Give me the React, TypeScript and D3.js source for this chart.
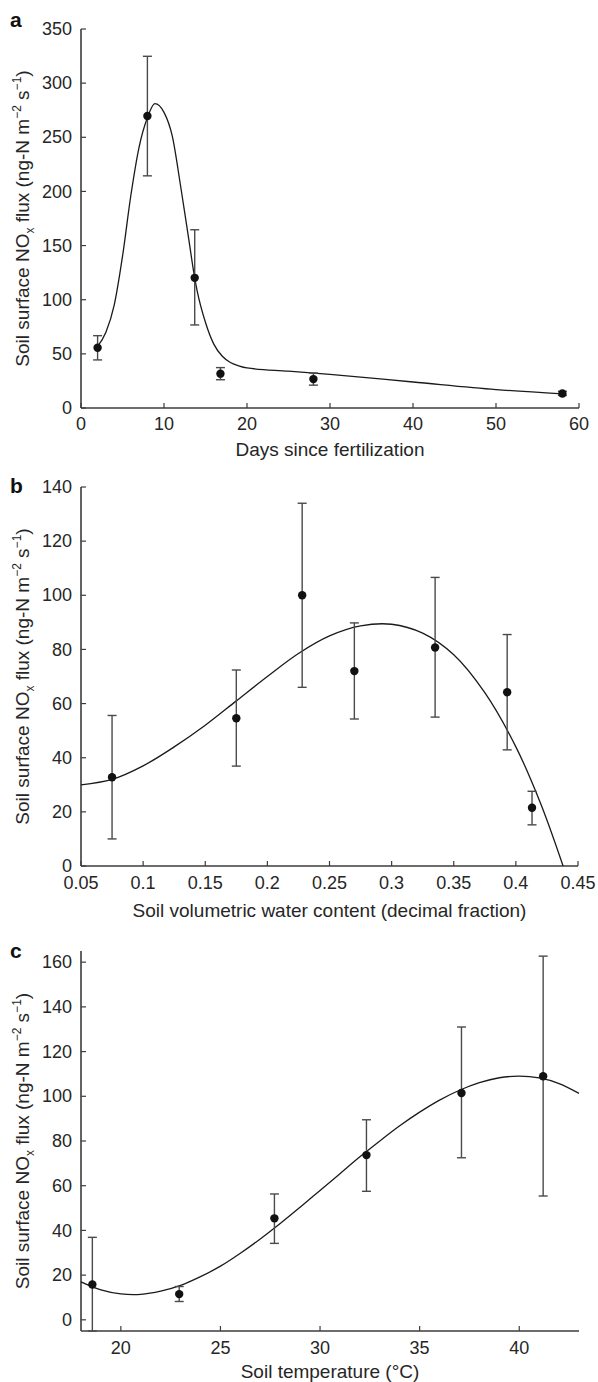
import * as d3 from "d3";

// panel a: flux vs days since fertilization
const daysX = [2, 8, 13.7, 16.8, 28, 58];
const daysFlux = [55.6, 269.6, 120.2, 31.7, 26.7, 13.4];
const daysLow = [44.4, 214.4, 76.7, 26.1, 21.1, 11.6];
const daysHigh = [66.8, 324.8, 164.6, 37.3, 32.3, 15.4];
const daysFitX = [2, 3, 4, 5, 6, 7, 8, 8.9, 10, 11, 12, 13, 13.7, 14, 15, 16, 17, 18, 19, 20, 25, 30, 40, 50, 58];
const daysFitY = [57, 70, 95, 140, 196, 241, 268, 281, 273, 251, 205, 155, 120, 108, 79, 59, 48, 42, 39, 37, 34, 31, 24, 17, 13];
const daysTicksX = [0, 10, 20, 30, 40, 50, 60];
const daysTicksY = [0, 50, 100, 150, 200, 250, 300, 350];

// panel b: flux vs soil water content
const waterX = [0.075, 0.175, 0.228, 0.27, 0.335, 0.393, 0.413];
const waterFlux = [32.8, 54.6, 100, 72, 80.7, 64.2, 21.5];
const waterLow = [10, 36.9, 66, 54.3, 55, 42.9, 15.2];
const waterHigh = [55.6, 72.4, 134, 89.8, 106.6, 85.5, 27.6];
const waterFitX = [0.05, 0.075, 0.1, 0.125, 0.15, 0.175, 0.2, 0.225, 0.25, 0.275, 0.3, 0.325, 0.35, 0.375, 0.4, 0.42, 0.438];
const waterFitY = [30, 32, 37, 44, 52, 61, 70, 78.5, 85, 88.7, 89.3, 86, 78, 64, 44, 23, 0];
const waterTicksX = [0.05, 0.1, 0.15, 0.2, 0.25, 0.3, 0.35, 0.4, 0.45];
const waterTicksY = [0, 20, 40, 60, 80, 100, 120, 140];

// panel c: flux vs soil temperature
const tempX = [18.57, 22.93, 27.71, 32.33, 37.1, 41.2];
const tempFlux = [15.8, 11.5, 45.4, 73.7, 101.5, 109];
const tempLow = [-5, 8.2, 34.2, 57.5, 72.5, 55.4];
const tempHigh = [36.9, 14.9, 56.3, 89.5, 131, 162.7];
const tempFitX = [18, 19, 20, 21, 22, 23, 24, 25, 26, 27, 28, 29, 30, 31, 32, 33, 34, 35, 36, 37, 38, 39, 40, 41, 42, 43];
const tempFitY = [17, 13.4, 11.6, 11.4, 12.8, 15.4, 19.3, 24, 29.8, 36.2, 43.1, 50.4, 57.9, 65.4, 72.9, 80, 86.8, 92.9, 98.3, 102.7, 106.1, 108.3, 109, 108.2, 105.7, 101.3];
const tempTicksX = [20, 25, 30, 35, 40];
const tempTicksY = [0, 20, 40, 60, 80, 100, 120, 140, 160];

const FONT = "'Liberation Sans', Arial, Helvetica, sans-serif";
const AXIS = "#3c3c3c";
const TEXT = "#262626";
const TICK_FS = 18;
const TITLE_FS = 19;

type PanelProps = {
  letter: string;
  letterY: number;
  xDomain: [number, number];
  yDomain: [number, number];
  xRange: [number, number];
  yRange: [number, number];
  xTicks: number[];
  yTicks: number[];
  xFmt: (v: number) => string;
  xLabelY: number;
  xTitle: string;
  xTitleY: number;
  px: number[];
  py: number[];
  lo: number[];
  hi: number[];
  fx: number[];
  fy: number[];
  curve: d3.CurveFactory;
};

function Panel(p: PanelProps) {
  const x = d3.scaleLinear().domain(p.xDomain).range(p.xRange);
  const y = d3.scaleLinear().domain(p.yDomain).range(p.yRange);
  const line = d3
    .line<number>()
    .x((d) => x(p.fx[d]))
    .y((d) => y(p.fy[d]))
    .curve(p.curve);
  const idx = p.fx.map((_, i) => i);
  const [x0, x1] = p.xRange;
  const [yb, yt] = p.yRange;
  const cy = (yb + yt) / 2;

  return (
    <g>
      <text x={10} y={p.letterY} fontSize={21} fontWeight="bold" fontFamily={FONT} fill="#111">
        {p.letter}
      </text>
      {/* axes */}
      <line x1={x0} x2={x0} y1={yb} y2={yt} stroke={AXIS} strokeWidth={1.6} />
      <line x1={x0} x2={x1} y1={yb} y2={yb} stroke={AXIS} strokeWidth={1.6} />
      {p.yTicks.map((t) => (
        <g key={"y" + t}>
          <line x1={x0} x2={x0 + 5} y1={y(t)} y2={y(t)} stroke={AXIS} strokeWidth={1.2} />
          <text x={x0 - 9} y={y(t)} dy="0.34em" textAnchor="end" fontSize={TICK_FS} fontFamily={FONT} fill={TEXT}>
            {t}
          </text>
        </g>
      ))}
      {p.xTicks.map((t) => (
        <g key={"x" + t}>
          <line x1={x(t)} x2={x(t)} y1={yb} y2={yb - 5} stroke={AXIS} strokeWidth={1.2} />
          <text x={x(t)} y={p.xLabelY} textAnchor="middle" fontSize={TICK_FS} fontFamily={FONT} fill={TEXT}>
            {p.xFmt(t)}
          </text>
        </g>
      ))}
      <text x={(x0 + x1) / 2} y={p.xTitleY} textAnchor="middle" fontSize={TITLE_FS} fontFamily={FONT} fill={TEXT}>
        {p.xTitle}
      </text>
      <text
        transform={`translate(29,${cy}) rotate(-90)`}
        textAnchor="middle"
        fontSize={TITLE_FS}
        fontFamily={FONT}
        fill={TEXT}
      >
        Soil surface NO
        <tspan fontSize={12} dy={5}>x</tspan>
        <tspan dy={-5}> flux (ng-N m</tspan>
        <tspan fontSize={12} dy={-8}>−2</tspan>
        <tspan dy={8}> s</tspan>
        <tspan fontSize={12} dy={-8}>−1</tspan>
        <tspan dy={8}>)</tspan>
      </text>
      {/* fitted curve */}
      <path d={line(idx) ?? ""} fill="none" stroke="#1a1a1a" strokeWidth={1.3} />
      {/* error bars and points */}
      {p.px.map((v, i) => (
        <g key={"p" + i}>
          <line x1={x(v)} x2={x(v)} y1={y(p.lo[i])} y2={y(p.hi[i])} stroke="#4a4a4a" strokeWidth={1.4} />
          <line x1={x(v) - 4.5} x2={x(v) + 4.5} y1={y(p.lo[i])} y2={y(p.lo[i])} stroke="#4a4a4a" strokeWidth={1.4} />
          <line x1={x(v) - 4.5} x2={x(v) + 4.5} y1={y(p.hi[i])} y2={y(p.hi[i])} stroke="#4a4a4a" strokeWidth={1.4} />
          <circle cx={x(v)} cy={y(p.py[i])} r={4.2} fill="#111" />
        </g>
      ))}
    </g>
  );
}

export default function App() {
  return (
    <svg
      width={598}
      height={1382}
      style={{ position: "absolute", left: 0, top: 0, background: "#fff" }}
    >
      <Panel
        letter="a"
        letterY={27}
        xDomain={[0, 60]}
        yDomain={[0, 350]}
        xRange={[81, 579]}
        yRange={[408, 29]}
        xTicks={daysTicksX}
        yTicks={daysTicksY}
        xFmt={(v) => String(v)}
        xLabelY={430}
        xTitle="Days since fertilization"
        xTitleY={456}
        px={daysX}
        py={daysFlux}
        lo={daysLow}
        hi={daysHigh}
        fx={daysFitX}
        fy={daysFitY}
        curve={d3.curveMonotoneX}
      />
      <Panel
        letter="b"
        letterY={493}
        xDomain={[0.05, 0.45]}
        yDomain={[0, 140]}
        xRange={[81, 578]}
        yRange={[866, 487]}
        xTicks={waterTicksX}
        yTicks={waterTicksY}
        xFmt={(v) => d3.format("~g")(v)}
        xLabelY={889}
        xTitle="Soil volumetric water content (decimal fraction)"
        xTitleY={917}
        px={waterX}
        py={waterFlux}
        lo={waterLow}
        hi={waterHigh}
        fx={waterFitX}
        fy={waterFitY}
        curve={d3.curveCatmullRom.alpha(0.5)}
      />
      <Panel
        letter="c"
        letterY={958}
        xDomain={[18, 43]}
        yDomain={[-5, 165]}
        xRange={[81, 579]}
        yRange={[1331, 951]}
        xTicks={tempTicksX}
        yTicks={tempTicksY}
        xFmt={(v) => String(v)}
        xLabelY={1354}
        xTitle="Soil temperature (°C)"
        xTitleY={1378}
        px={tempX}
        py={tempFlux}
        lo={tempLow}
        hi={tempHigh}
        fx={tempFitX}
        fy={tempFitY}
        curve={d3.curveCatmullRom.alpha(0.5)}
      />
    </svg>
  );
}
